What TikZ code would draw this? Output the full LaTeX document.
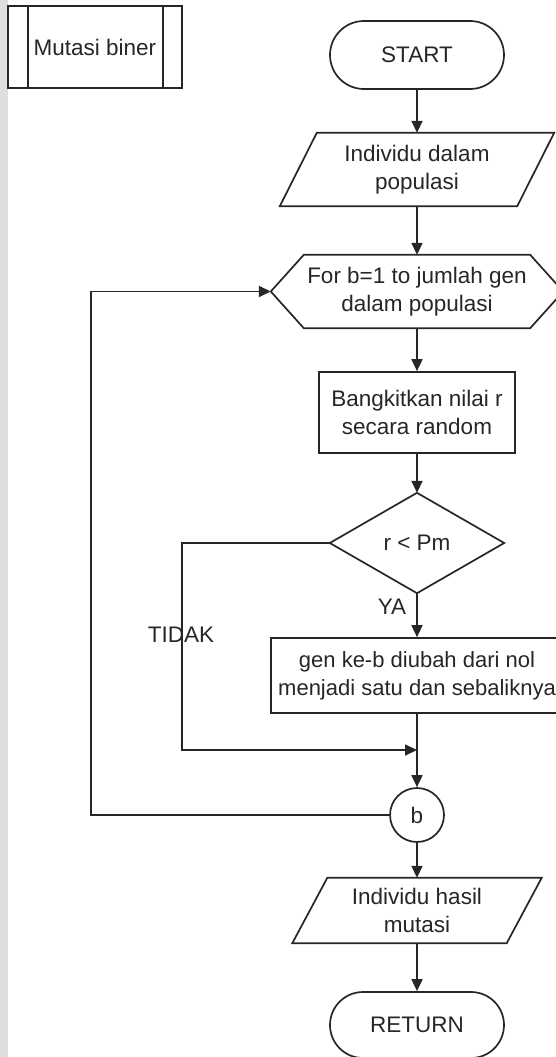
\documentclass[tikz,border=0pt]{standalone}
\usepackage{fontspec}
\setmainfont{Liberation Sans}
\usetikzlibrary{arrows.meta,shapes.misc}

\begin{document}
\begin{tikzpicture}[x=1pt,y=1pt,
  ink/.style={draw=black!85, line width=1.7pt},
  txt/.style={text=black!85, font=\fontsize{22.5}{28}\selectfont, align=center, inner sep=0pt},
  terminal/.style={txt, ink, rounded rectangle, minimum width=174pt, minimum height=68pt},
  procbox/.style={txt, ink, rectangle},
  frame/.style={txt, rectangle},
  conn/.style={ink, -{Triangle[length=12pt,width=11pt]}},
  wire/.style={ink},
]
\path[use as bounding box] (0,0) rectangle (556,-1057);
\clip (0,0) rectangle (556,-1057);
\fill[black!13] (0,0) rectangle (8,-1057);

% subroutine title box
\node[procbox, minimum width=174pt, minimum height=82pt] (sub) at (95,-47) {Mutasi biner};
\draw[wire] ([xshift=21pt]sub.north west) -- ([xshift=21pt]sub.south west);
\draw[wire] ([xshift=-20pt]sub.north east) -- ([xshift=-20pt]sub.south east);

% main column
\node[terminal] (start) at (417,-55) {START};

\node[frame, minimum width=237pt, minimum height=73pt] (in) at (417,-169.5) {Individu dalam\\populasi};
\draw[wire] ([xshift=18.5pt]in.north west) -- ([xshift=18.5pt]in.north east)
  -- ([xshift=-18.5pt]in.south east) -- ([xshift=-18.5pt]in.south west) -- cycle;

\node[frame, minimum width=292pt, minimum height=73pt] (loop) at (417,-291.5) {For b=1 to jumlah gen\\dalam populasi};
\draw[wire] (loop.west) -- ([xshift=33pt]loop.north west) -- ([xshift=-33pt]loop.north east)
  -- (loop.east) -- ([xshift=-33pt]loop.south east) -- ([xshift=33pt]loop.south west) -- cycle;

\node[procbox, minimum width=196pt, minimum height=81pt] (rand) at (417,-412.5) {Bangkitkan nilai r\\secara random};

\node[frame, minimum width=174pt, minimum height=100pt] (dec) at (417,-543) {r < Pm};
\draw[wire] (dec.north) -- (dec.east) -- (dec.south) -- (dec.west) -- cycle;

\node[procbox, minimum width=292pt, minimum height=75pt, font=\fontsize{22}{28}\selectfont] (flip) at (417,-675.5) {gen ke-b diubah dari nol\\menjadi satu dan sebaliknya};

\coordinate (join) at (417,-750);

\node[txt, ink, circle, minimum size=54pt] (b) at (417,-815) {b};

\node[frame, minimum width=214pt, minimum height=65pt] (out) at (417,-910.5) {Individu hasil\\mutasi};
\draw[wire] ([xshift=17.5pt]out.north west) -- ([xshift=17.5pt]out.north east)
  -- ([xshift=-17.5pt]out.south east) -- ([xshift=-17.5pt]out.south west) -- cycle;

\node[terminal, minimum height=66pt] (ret) at (417,-1025) {RETURN};

% labels
\node[txt] (ya) at (392,-607) {YA};
\node[txt] (tidak) at (181,-635) {TIDAK};

% connectors
\draw[conn] (start) -- (in);
\draw[conn] (in) -- (loop);
\draw[conn] (loop) -- (rand);
\draw[conn] (rand) -- (dec);
\draw[conn] (dec) -- (flip);
\draw[wire] (flip) -- (join);
\draw[conn] (dec.west) -- ++(-148,0) |- (join);
\draw[conn] (join) -- (b);
\draw[conn] (b.west) -- ++(-298,0) |- (loop.west);
\draw[conn] (b) -- (out);
\draw[conn] (out) -- (ret);
\end{tikzpicture}
\end{document}
